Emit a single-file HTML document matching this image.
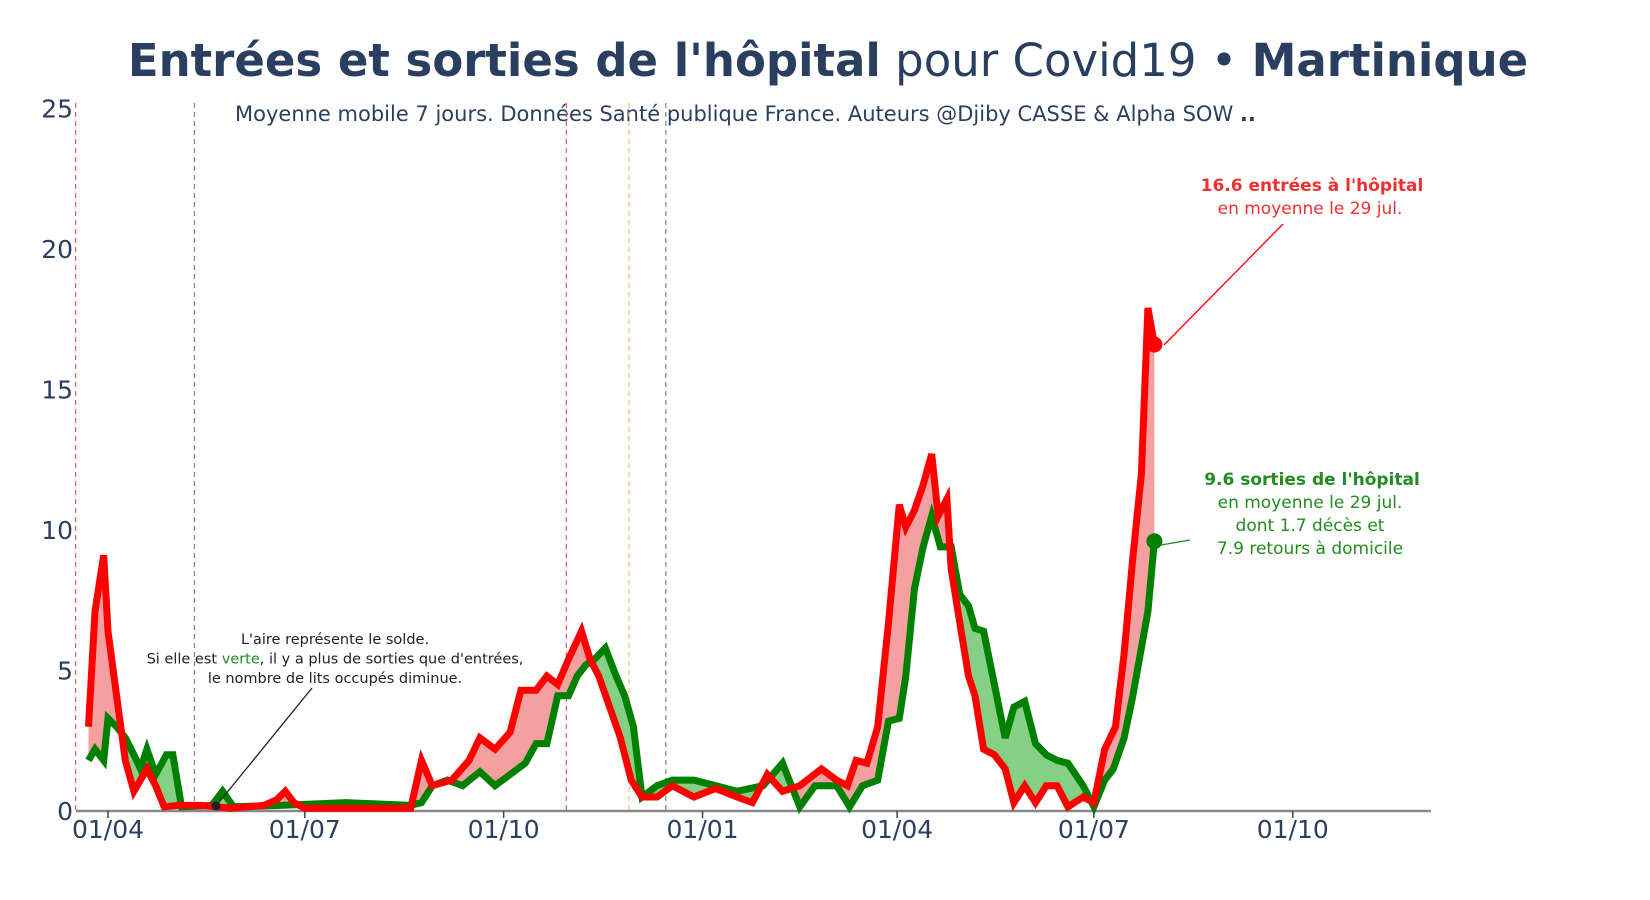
<!DOCTYPE html>
<html><head><meta charset="utf-8"><style>
body{margin:0;background:#fff;}
svg{display:block;font-family:"DejaVu Sans","Liberation Sans",sans-serif;}
</style></head><body>
<svg id="chart" width="1650" height="900" viewBox="0 0 1650 900" xmlns="http://www.w3.org/2000/svg">
<text x="828" y="76" text-anchor="middle" font-size="45" fill="#2a3f5f"><tspan font-weight="bold">Entrées et sorties de l'hôpital</tspan> pour Covid19 • <tspan font-weight="bold">Martinique</tspan></text>
<text x="235" y="121" font-size="21" fill="#2a3f5f">Moyenne mobile 7 jours. Données Santé publique France. Auteurs @Djiby CASSE &amp; Alpha SOW <tspan font-weight="bold">..</tspan></text>
<g id="vlines"></g>
<defs>
<clipPath id="aboveGreen"><path id="cg"/></clipPath>
<clipPath id="aboveRed"><path id="cr"/></clipPath>
</defs>
<path id="fillRed" fill="#f4a0a0" clip-path="url(#aboveGreen)"/>
<path id="fillGreen" fill="#86d086" clip-path="url(#aboveRed)"/>
<line x1="76" y1="811" x2="1431" y2="811" stroke="#888" stroke-width="2.5"/>
<g id="ticks"></g>
<path id="lineGreen" fill="none" stroke="#008000" stroke-width="7" stroke-linejoin="miter"/>
<path id="lineRed" fill="none" stroke="#ff0000" stroke-width="7" stroke-linejoin="miter"/>
<circle id="dotRed" r="8" fill="#ff0000"/>
<circle id="dotGreen" r="8" fill="#008000"/>
<line x1="1283" y1="224" x2="1164" y2="345" stroke="#ff0000" stroke-width="1.3"/>
<text x="1312" y="191" text-anchor="middle" font-size="17" fill="#f03030"><tspan font-weight="bold">16.6 entrées à l'hôpital</tspan><tspan x="1310" dy="23">en moyenne le 29 jul.</tspan></text>
<line x1="1190" y1="540" x2="1161" y2="545" stroke="#228b22" stroke-width="1.3"/>
<text x="1312" y="485" text-anchor="middle" font-size="17" fill="#228b22"><tspan font-weight="bold">9.6 sorties de l'hôpital</tspan><tspan x="1310" dy="23">en moyenne le 29 jul.</tspan><tspan x="1310" dy="23">dont 1.7 décès et</tspan><tspan x="1310" dy="23">7.9 retours à domicile</tspan></text>
<line x1="312" y1="688" x2="216" y2="806" stroke="#222" stroke-width="1.3"/>
<circle cx="216" cy="806" r="4.5" fill="#222"/>
<text x="335" y="644" text-anchor="middle" font-size="14.5" fill="#222">L'aire représente le solde.<tspan x="335" dy="19.5">Si elle est <tspan fill="#228b22">verte</tspan>, il y a plus de sorties que d'entrées,</tspan><tspan x="335" dy="19.5">le nombre de lits occupés diminue.</tspan></text>
<g id="ylabels"></g>
</svg>
<script>
// days since 2020-04-01
const redDays=[-9,-6,-2,0,4,8,12,15,18,22,26,33,43,57,72,78,82,86,91,116,140,145,150,159,167,172,179,186,191,198,203,208,213,219,223,227,232,237,242,247,254,261,271,281,291,298,305,312,320,330,337,342,346,351,356,361,366,369,373,377,381,384,388,390,394,398,401,405,410,415,419,424,429,434,439,444,451,456,461,466,470,474,478,481,484];
const redVals=[3.0,7.1,9.1,6.4,4.1,1.8,0.7,1.1,1.5,0.9,0.15,0.2,0.2,0.1,0.2,0.4,0.7,0.3,0.1,0.1,0.1,1.8,0.9,1.1,1.8,2.6,2.2,2.8,4.3,4.3,4.8,4.5,5.4,6.4,5.4,4.8,3.7,2.6,1.1,0.5,0.5,0.9,0.5,0.8,0.5,0.3,1.3,0.7,0.9,1.5,1.1,0.9,1.8,1.7,3.0,6.7,10.9,10.1,10.7,11.6,12.7,10.5,11.1,8.6,6.7,4.8,4.1,2.2,2.0,1.5,0.3,0.9,0.3,0.9,0.9,0.15,0.5,0.3,2.2,3.0,5.6,9.0,12.0,17.9,16.6];
const greenDays=[-9,-6,-2,0,4,8,12,15,18,22,27,30,34,48,53,58,80,110,140,145,150,157,164,172,179,186,193,198,203,208,213,217,221,225,230,235,239,243,247,254,261,271,281,291,303,312,320,327,337,343,349,356,361,366,369,373,377,381,385,390,394,398,401,405,410,415,419,424,429,434,439,444,451,456,461,465,470,474,481,484];
const greenVals=[1.8,2.2,1.8,3.3,3.0,2.6,2.0,1.5,2.2,1.3,2.0,2.0,0.15,0.2,0.7,0.15,0.2,0.3,0.2,0.3,0.9,1.1,0.9,1.4,0.9,1.3,1.7,2.4,2.4,4.1,4.1,4.8,5.2,5.4,5.8,4.8,4.1,3.0,0.5,0.9,1.1,1.1,0.9,0.7,0.9,1.7,0.15,0.9,0.9,0.15,0.9,1.1,3.2,3.3,4.8,7.9,9.4,10.5,9.4,9.4,7.7,7.3,6.5,6.4,4.5,2.6,3.7,3.9,2.4,2.0,1.8,1.7,0.9,0.15,1.1,1.5,2.6,4.1,7.1,9.6];
const xTickDays=[0,91,183,275,365,456,548];
const xTickLabels=["01/04","01/07","01/10","01/01","01/04","01/07","01/10"];
const yTicks=[0,5,10,15,20,25];
const vlineDays=[-15,40,212,241,258];
const vlineColors=["#e06060","#5a9a5a","#e06060","#f0c060","#5a9a5a"];

const X=d=>108+d*2.162, Y=v=>811-v*28.1;
const NS="http://www.w3.org/2000/svg";
function mk(tag,attrs,parent){const e=document.createElementNS(NS,tag);for(const k in attrs)e.setAttribute(k,attrs[k]);parent.appendChild(e);return e;}
const pts=(ds,vs)=>ds.map((d,i)=>X(d).toFixed(1)+","+Y(vs[i]).toFixed(1));
const rp=pts(redDays,redVals), gp=pts(greenDays,greenVals);
document.getElementById('lineRed').setAttribute('d',"M"+rp.join("L"));
document.getElementById('lineGreen').setAttribute('d',"M"+gp.join("L"));
const baseEdge=(ds)=>"L"+X(ds[ds.length-1])+","+Y(0)+"L"+X(ds[0])+","+Y(0)+"Z";
document.getElementById('fillRed').setAttribute('d',"M"+rp.join("L")+baseEdge(redDays));
document.getElementById('fillGreen').setAttribute('d',"M"+gp.join("L")+baseEdge(greenDays));
const topEdge=(ds)=>"L"+X(ds[ds.length-1])+",0L"+X(ds[0])+",0Z";
document.getElementById('cg').setAttribute('d',"M"+gp.join("L")+topEdge(greenDays));
document.getElementById('cr').setAttribute('d',"M"+rp.join("L")+topEdge(redDays));
const lr=redDays.length-1, lg=greenDays.length-1;
document.getElementById('dotRed').setAttribute('cx',X(redDays[lr]));
document.getElementById('dotRed').setAttribute('cy',Y(redVals[lr]));
document.getElementById('dotGreen').setAttribute('cx',X(greenDays[lg]));
document.getElementById('dotGreen').setAttribute('cy',Y(greenVals[lg]));
const vg=document.getElementById('vlines');
vlineDays.forEach((d,i)=>{
  const l=mk('line',{x1:X(d),x2:X(d),y1:103,y2:811,stroke:vlineColors[i],'stroke-width':1.2,'stroke-dasharray':'5,4'},vg);
  
  
});
const tg=document.getElementById('ticks');
xTickDays.forEach((d,i)=>{
  const t=mk('line',{x1:X(d),x2:X(d),y1:811,y2:818,stroke:'#444','stroke-width':1.5},tg);
  
  
  const tx=mk('text',{x:X(d),y:838,'text-anchor':'middle','font-size':25,fill:'#2a3f5f'},tg);
  tx.textContent=xTickLabels[i];
  
  
});
const yg=document.getElementById('ylabels');
yTicks.forEach(v=>{
  const tx=mk('text',{x:73,y:Y(v)+9,'text-anchor':'end','font-size':25,fill:'#2a3f5f'},yg);
  tx.textContent=v;
  
  
});
</script>
</body></html>
